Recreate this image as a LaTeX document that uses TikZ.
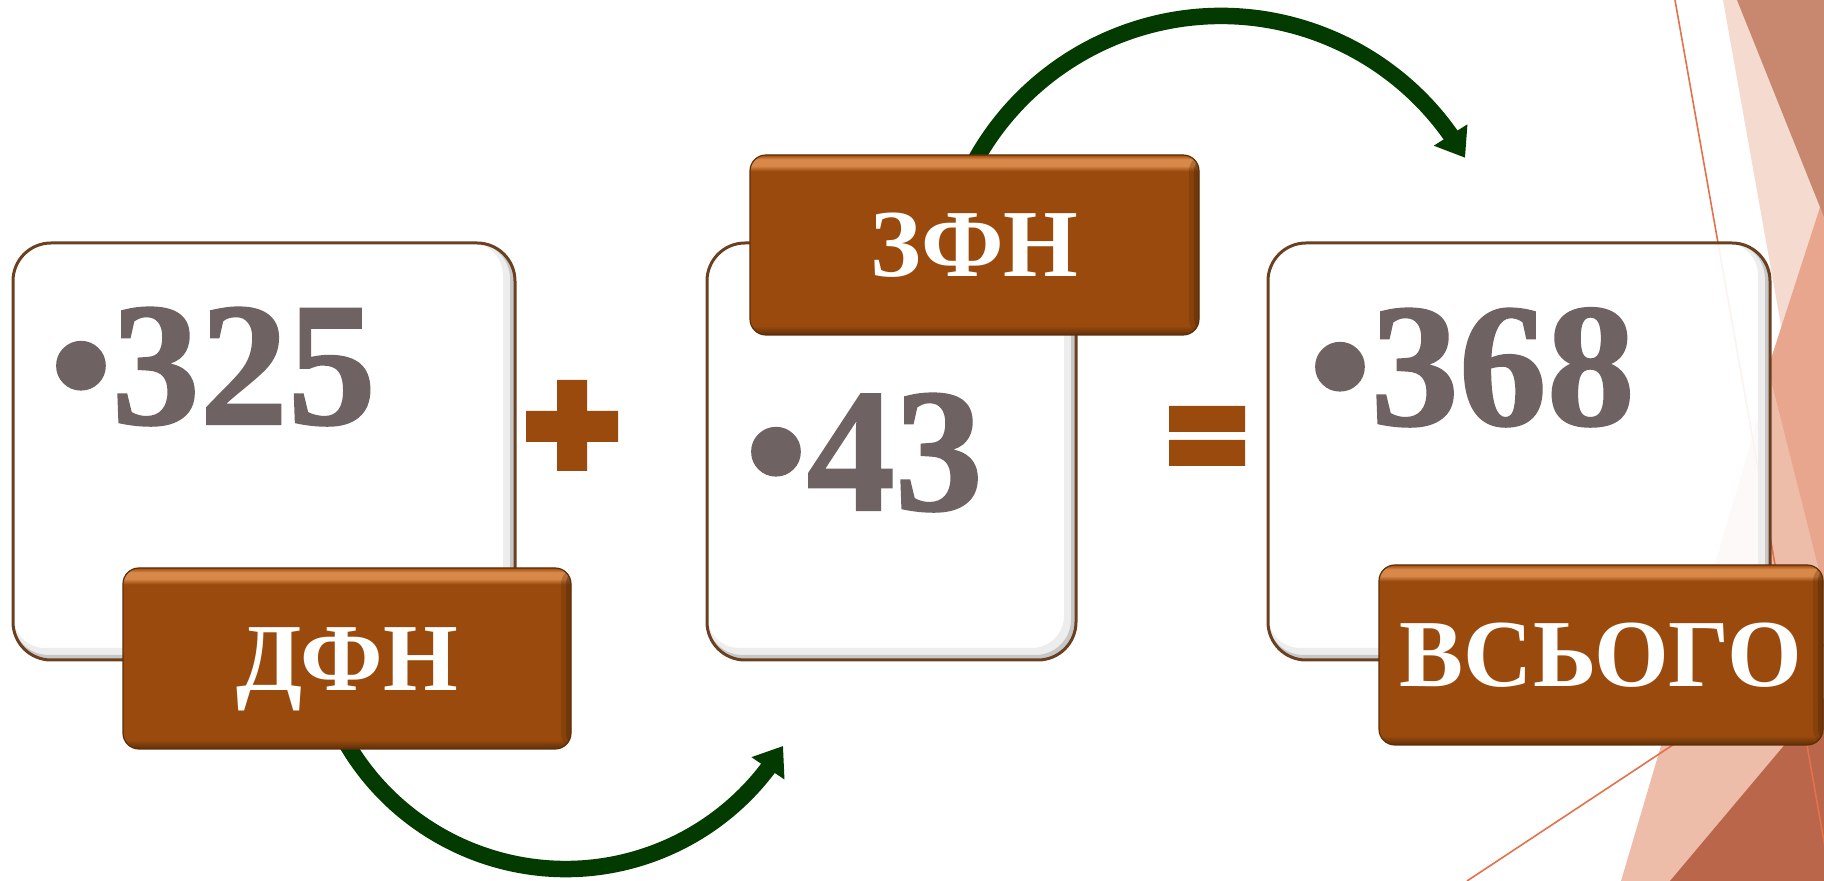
\documentclass[tikz,border=0pt]{standalone}
\usepackage{fontspec}
\setmainfont{Liberation Serif}
\newfontfamily\heavyserif{Liberation Serif}[BoldFeatures={FakeBold=1.2}]
\usetikzlibrary{arrows.meta}
\definecolor{labbrown}{HTML}{9A4A0C}
\definecolor{labhl}{HTML}{D8894A}
\definecolor{labdk}{HTML}{5C2F0A}
\definecolor{numgrey}{HTML}{6E6262}
\definecolor{arrgreen}{HTML}{033A00}
\definecolor{boxedge}{HTML}{6B4020}
\definecolor{facetA}{HTML}{F5DAD0}
\definecolor{facetB}{HTML}{C8876F}
\definecolor{facetC}{HTML}{E8A68E}
\definecolor{facetD}{HTML}{EEBDAA}
\definecolor{facetE}{HTML}{B9664A}
\definecolor{facetline}{HTML}{E4714A}
\pgfdeclareverticalshading{labshade}{100bp}{color(0bp)=(labdk); color(25bp)=(labdk); color(27.5bp)=(labbrown); color(70.5bp)=(labbrown); color(72bp)=(labhl); color(73.8bp)=(labhl); color(75bp)=(labbrown); color(100bp)=(labbrown)}
\tikzset{
  numbox/.style={rounded corners=38pt, fill=white, fill opacity=0.92, draw=boxedge, line width=3pt, inner sep=0pt, outer sep=0pt,
    path picture={
      \draw[black!7, line width=12pt, rounded corners=38pt] ([shift={(-6pt,6pt)}]path picture bounding box.south west) rectangle ([shift={(-6pt,6pt)}]path picture bounding box.north east);
      \draw[black!22, line width=5pt, rounded corners=38pt] ([shift={(-2.5pt,2.5pt)}]path picture bounding box.south west) rectangle ([shift={(-2.5pt,2.5pt)}]path picture bounding box.north east);
    }},
  labelbox/.style={rounded corners=16pt, shading=labshade, draw=labdk, line width=1.2pt, inner sep=0pt, outer sep=0pt, text=white, font=\fontsize{96}{96}\selectfont\bfseries, text height=63.5pt, text depth=0pt,
    path picture={
      \fill[labdk, opacity=0.3] ([xshift=-10pt]path picture bounding box.north east) rectangle (path picture bounding box.south east);
      \fill[labdk, opacity=0.5] ([xshift=-5pt]path picture bounding box.north east) rectangle (path picture bounding box.south east);
    }},
  numtext/.style={text=numgrey, font=\fontsize{176}{176}\selectfont\heavyserif\bfseries, inner sep=0pt, anchor=base west},
  bigarrow/.style={draw=arrgreen, line width=16.5pt, -{Triangle[length=27pt,width=38pt]}, arrgreen},
  signfill/.style={fill=labbrown}
}
\begin{document}
\begin{tikzpicture}[x=1pt,y=1pt]
\useasboundingbox (0,0) rectangle (1824,881);
% facet decoration
\begin{scope}
\clip (0,0) rectangle (1824,881);
\fill[facetA] (1723,881) -- (1824,881) -- (1824,314) -- cycle;
\fill[facetD] (1621,0) -- (1824,0) -- (1824,686) -- cycle;
\fill[facetC] (1824,686) -- (1768,513) -- (1824,291) -- cycle;
\fill[facetB] (1737,881) -- (1824,881) -- (1824,664) -- cycle;
\fill[facetE] (1670,0) -- (1824,0) -- (1824,183) -- cycle;
\draw[facetline, line width=1.6pt] (1675,881) -- (1831,0);
\draw[facetline, line width=1.6pt] (1467,0) -- (1824,236);
\end{scope}
% arrows
\coordinate (ctop) at (1221,584);
\coordinate (cbot) at (565.6,265.7);
\coordinate (tiptop) at ([shift={(29.7:281pt)}]ctop);
\coordinate (tipbot) at ([shift={(329:253.7pt)}]cbot);
\draw[bigarrow] ([shift={(158:281pt)}]ctop) arc[start angle=158, end angle=35.2, radius=281pt] -- (tiptop);
\draw[bigarrow] ([shift={(204:253.7pt)}]cbot) arc[start angle=204, end angle=322.9, radius=253.7pt] -- (tipbot);
% boxes
\node[numbox, minimum width=502pt, minimum height=417pt] (box1) at (264,429.5) {};
\node[numbox, minimum width=369pt, minimum height=417pt] (box2) at (891.5,429.5) {};
\node[numbox, minimum width=502pt, minimum height=417pt] (box3) at (1519,429.5) {};
% numbers
\node[numtext] (n1) at (50,457) {•325};
\node[numtext] (n2) at (745,371) {•43};
\node[numtext] (n3) at (1309,456) {•368};
% plus and equals
\fill[signfill] (526,439) rectangle (618,470) (557,410) rectangle (587,501);
\fill[signfill] (1169,449) rectangle (1245,475) (1169,415) rectangle (1245,441);
% labels
\node[labelbox, minimum width=448pt, minimum height=181pt] (lab1) at (347,222.5) {ДФН};
\node[labelbox, minimum width=449pt, minimum height=180pt] (lab2) at (974.5,636) {ЗФН};
\node[labelbox, minimum width=444pt, minimum height=180pt] (lab3) at (1601,226) {ВСЬОГО};
\end{tikzpicture}
\end{document}
